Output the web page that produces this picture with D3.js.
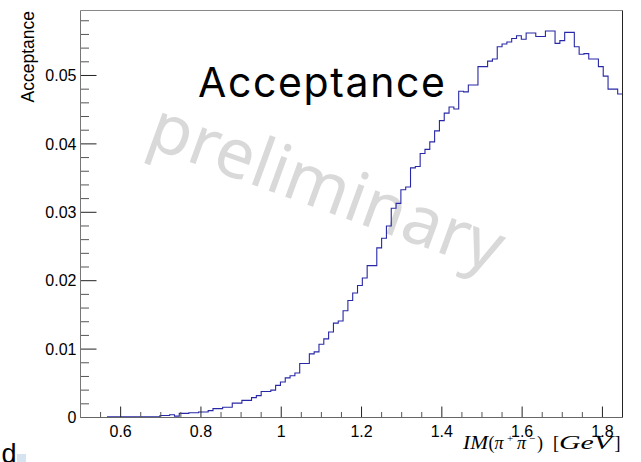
<!DOCTYPE html>
<html>
<head>
<meta charset="utf-8">
<title>Acceptance</title>
<style>
  body { margin: 0; background: #fff; }
  svg { display: block; }
</style>
</head>
<body>
<script src="https://cdn.jsdelivr.net/npm/d3@7/dist/d3.min.js"></script>
<script>

// histogram: 107 bins of 0.012 GeV starting at 0.566 GeV
var binStart = 0.566;
var binWidth = 0.012;
var acceptance = [
  0.0001, 0.0001, 0.0001, 0.0001, 0.0001, 0.0001, 0.0001, 0.0001, 0.0001, 0.0001,
  0.0001, 0.0003, 0.0003, 0.0004, 0.0002, 0.0006, 0.0006, 0.0007, 0.0007, 0.0008,
  0.0008, 0.0010, 0.0013, 0.0013, 0.0015, 0.0015, 0.0021, 0.0021, 0.0025, 0.0025,
  0.0029, 0.0032, 0.0038, 0.0038, 0.0040, 0.0047, 0.0052, 0.0058, 0.0061, 0.0065,
  0.0079, 0.0079, 0.0093, 0.0096, 0.0107, 0.0115, 0.0125, 0.0138, 0.0141, 0.0156,
  0.0171, 0.0182, 0.0193, 0.0204, 0.0222, 0.0222, 0.0248, 0.0262, 0.0280, 0.0306,
  0.0313, 0.0333, 0.0337, 0.0365, 0.0367, 0.0386, 0.0392, 0.0403, 0.0419, 0.0434,
  0.0445, 0.0454, 0.0451, 0.0477, 0.0476, 0.0486, 0.0486, 0.0513, 0.0513, 0.0521,
  0.0524, 0.0542, 0.0546, 0.0549, 0.0554, 0.0558, 0.0553, 0.0562, 0.0562, 0.0557,
  0.0557, 0.0565, 0.0565, 0.0547, 0.0551, 0.0563, 0.0563, 0.0542, 0.0531, 0.0532,
  0.0524, 0.0524, 0.0513, 0.0499, 0.0480, 0.0480, 0.0473
];

var xDomain = [0.5, 1.85];
var yDomain = [0, 0.0595];
var xTicks = [0.6, 0.8, 1.0, 1.2, 1.4, 1.6, 1.8];
var xTickLabels = ["0.6", "0.8", "1", "1.2", "1.4", "1.6", "1.8"];
var yTicks = [0, 0.01, 0.02, 0.03, 0.04, 0.05];
var yTickLabels = ["0", "0.01", "0.02", "0.03", "0.04", "0.05"];

var width = 641, height = 462;
var frameL = 80.5, frameR = 622.5, frameT = 10.5, frameB = 417.5;

var svg = d3.select("body").append("svg")
  .attr("width", width)
  .attr("height", height);

var x = d3.scaleLinear().domain(xDomain).range([frameL, frameR]);
var y = d3.scaleLinear().domain(yDomain).range([frameB, frameT]);

// watermark
svg.append("text")
  .attr("transform", "translate(319,209) rotate(20)")
  .attr("text-anchor", "middle")
  .attr("font-family", "'Noto Sans', 'Open Sans', sans-serif")
  .attr("font-size", 69)
  .attr("fill", "#d9d9d9")
  .text("preliminary");

// histogram as steps
var path = d3.path();
acceptance.forEach(function(v, i) {
  var x0 = x(binStart + i * binWidth);
  var x1 = x(binStart + (i + 1) * binWidth);
  if (i === 0) path.moveTo(x0, y(v));
  else path.lineTo(x0, y(v));
  path.lineTo(Math.min(x1, frameR), y(v));
});
svg.append("path")
  .attr("d", path.toString())
  .attr("fill", "none")
  .attr("stroke", "#2828a6")
  .attr("stroke-width", 1.1);

// ticks
var g = svg.append("g");
var xMinor = d3.range(0.55, 1.85, 0.05).filter(function(t) {
  return !xTicks.some(function(m) { return Math.abs(m - t) < 1e-6; });
});
g.selectAll(".xminor").data(xMinor).enter().append("line")
  .attr("x1", function(d) { return x(d); }).attr("x2", function(d) { return x(d); })
  .attr("y1", frameB).attr("y2", frameB - 5.5)
  .attr("stroke", "#555");
g.selectAll(".xmajor").data(xTicks).enter().append("line")
  .attr("x1", function(d) { return x(d); }).attr("x2", function(d) { return x(d); })
  .attr("y1", frameB).attr("y2", frameB - 11)
  .attr("stroke", "#222");

var yMinor = d3.range(0.002, 0.0595, 0.002).filter(function(t) {
  return !yTicks.some(function(m) { return Math.abs(m - t) < 1e-6; });
});
g.selectAll(".yminor").data(yMinor).enter().append("line")
  .attr("x1", frameL).attr("x2", frameL + 8.5)
  .attr("y1", function(d) { return y(d); }).attr("y2", function(d) { return y(d); })
  .attr("stroke", "#555");
g.selectAll(".ymajor").data(yTicks).enter().append("line")
  .attr("x1", frameL).attr("x2", frameL + 16)
  .attr("y1", function(d) { return y(d); }).attr("y2", function(d) { return y(d); })
  .attr("stroke", "#222");

// frame
svg.append("line").attr("x1", frameL).attr("x2", frameR).attr("y1", frameT).attr("y2", frameT).attr("stroke", "#888");
svg.append("line").attr("x1", frameL).attr("x2", frameL).attr("y1", frameT).attr("y2", frameB).attr("stroke", "#777");
svg.append("line").attr("x1", frameL).attr("x2", frameR).attr("y1", frameB).attr("y2", frameB).attr("stroke", "#666");
svg.append("line").attr("x1", frameR).attr("x2", frameR).attr("y1", frameT).attr("y2", frameB).attr("stroke", "#222");

// tick labels
svg.selectAll(".xlab").data(xTicks).enter().append("text")
  .attr("x", function(d) { return x(d); })
  .attr("y", 436.5)
  .attr("text-anchor", "middle")
  .attr("font-family", "'Liberation Sans', Arial, sans-serif")
  .attr("font-size", 16)
  .text(function(d, i) { return xTickLabels[i]; });

svg.selectAll(".ylab").data(yTicks).enter().append("text")
  .attr("x", 76.5)
  .attr("y", function(d) { return y(d) + 5.7; })
  .attr("text-anchor", "end")
  .attr("font-family", "'Liberation Sans', Arial, sans-serif")
  .attr("font-size", 16)
  .text(function(d, i) { return yTickLabels[i]; });

// y title
svg.append("text")
  .attr("transform", "translate(34,11) rotate(-90)")
  .attr("text-anchor", "end")
  .attr("font-family", "'Liberation Sans', Arial, sans-serif")
  .attr("font-size", 17.5)
  .text("Acceptance");

// x title, TeX-like pieces
var xt = svg.append("g")
  .attr("font-family", "'Liberation Serif', 'DejaVu Serif', serif");
var pieces = [
  {t: "IM", x: 463, dy: 0, it: true, w: 25},
  {t: "(", x: 488.5, dy: 0, it: false},
  {t: "\u03c0", x: 494.5, dy: 0, it: true},
  {t: "+", x: 507, dy: -7, it: false, s: 11},
  {t: "\u03c0", x: 517, dy: 0, it: true},
  {t: "\u2212", x: 529, dy: -7, it: false, s: 11},
  {t: ")", x: 537, dy: 0, it: false},
  {t: "[", x: 553, dy: 0, it: false},
  {t: "GeV", x: 559, dy: 0, it: true, w: 53},
  {t: "]", x: 614.5, dy: 0, it: false}
];
xt.selectAll("text").data(pieces).enter().append("text")
  .attr("x", function(d) { return d.x; })
  .attr("y", function(d) { return 449 + d.dy; })
  .attr("font-style", function(d) { return d.it ? "italic" : "normal"; })
  .attr("font-size", function(d) { return d.s || 18; })
  .attr("textLength", function(d) { return d.w || null; })
  .attr("lengthAdjust", "spacingAndGlyphs")
  .text(function(d) { return d.t; });

// main label
svg.append("text")
  .attr("x", 198)
  .attr("y", 97)
  .attr("font-family", "Inter, 'Liberation Sans', sans-serif")
  .attr("font-size", 41)
  .attr("textLength", 247)
  .attr("lengthAdjust", "spacing")
  .text("Acceptance");

// cropped remnant at bottom-left
svg.append("text")
  .attr("x", 16.5)
  .attr("y", 463)
  .attr("text-anchor", "end")
  .attr("font-family", "'Liberation Sans', Arial, sans-serif")
  .attr("font-size", 27)
  .text("d");
svg.append("rect")
  .attr("x", 17).attr("y", 454).attr("width", 9).attr("height", 8)
  .attr("fill", "#d6e3f1");

</script>
</body>
</html>
